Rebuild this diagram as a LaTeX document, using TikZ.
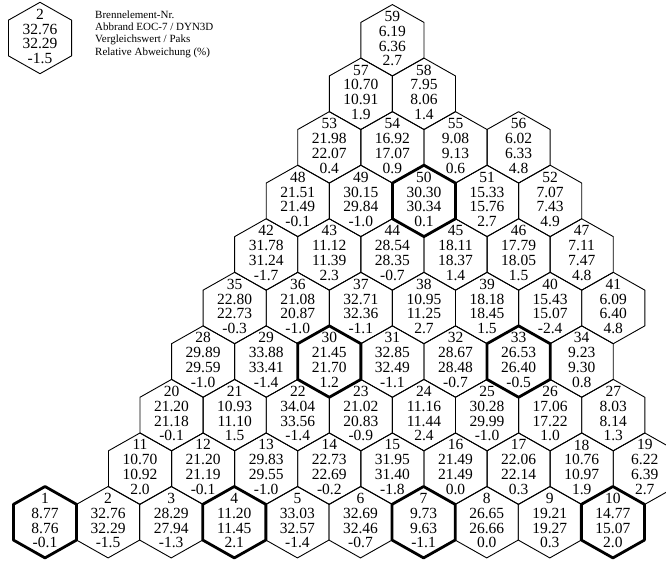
\documentclass[tikz,border=0pt]{standalone}
\usepackage{fontspec}
\setmainfont{Liberation Serif}
\begin{document}
\begin{tikzpicture}[x=1pt,y=-1pt,
  hexline/.style={line width=0.9pt,line join=round},
  hexbold/.style={line width=2.8pt,line join=round},
  val/.style={font=\fontsize{15.5}{14.8}\selectfont,align=center,inner sep=0pt},
  legtext/.style={font=\fontsize{11}{12.3}\selectfont,align=left,anchor=west,inner sep=0pt}]
\useasboundingbox (0,0) rectangle (666,560);
\clip (0,0) rectangle (666,560);
\def\hexat#1#2{(#1,#2) ++(0,-35.7) -- ++(31.55,17.85) -- ++(0,35.7) -- ++(-31.55,17.85) -- ++(-31.55,-17.85) -- ++(0,-35.7) -- cycle}
\foreach \n/\r/\i/\a/\b/\c in {
 1/1/0/8.77/8.76/-0.1, 2/1/1/32.76/32.29/-1.5, 3/1/2/28.29/27.94/-1.3, 4/1/3/11.20/11.45/2.1,
 5/1/4/33.03/32.57/-1.4, 6/1/5/32.69/32.46/-0.7, 7/1/6/9.73/9.63/-1.1, 8/1/7/26.65/26.66/0.0,
 9/1/8/19.21/19.27/0.3, 10/1/9/14.77/15.07/2.0,
 11/2/0/10.70/10.92/2.0, 12/2/1/21.20/21.19/-0.1, 13/2/2/29.83/29.55/-1.0, 14/2/3/22.73/22.69/-0.2,
 15/2/4/31.95/31.40/-1.8, 16/2/5/21.49/21.49/0.0, 17/2/6/22.06/22.14/0.3, 18/2/7/10.76/10.97/1.9,
 19/2/8/6.22/6.39/2.7,
 20/3/0/21.20/21.18/-0.1, 21/3/1/10.93/11.10/1.5, 22/3/2/34.04/33.56/-1.4, 23/3/3/21.02/20.83/-0.9,
 24/3/4/11.16/11.44/2.4, 25/3/5/30.28/29.99/-1.0, 26/3/6/17.06/17.22/1.0, 27/3/7/8.03/8.14/1.3,
 28/4/0/29.89/29.59/-1.0, 29/4/1/33.88/33.41/-1.4, 30/4/2/21.45/21.70/1.2, 31/4/3/32.85/32.49/-1.1,
 32/4/4/28.67/28.48/-0.7, 33/4/5/26.53/26.40/-0.5, 34/4/6/9.23/9.30/0.8,
 35/5/0/22.80/22.73/-0.3, 36/5/1/21.08/20.87/-1.0, 37/5/2/32.71/32.36/-1.1, 38/5/3/10.95/11.25/2.7,
 39/5/4/18.18/18.45/1.5, 40/5/5/15.43/15.07/-2.4, 41/5/6/6.09/6.40/4.8,
 42/6/0/31.78/31.24/-1.7, 43/6/1/11.12/11.39/2.3, 44/6/2/28.54/28.35/-0.7, 45/6/3/18.11/18.37/1.4,
 46/6/4/17.79/18.05/1.5, 47/6/5/7.11/7.47/4.8,
 48/7/0/21.51/21.49/-0.1, 49/7/1/30.15/29.84/-1.0, 50/7/2/30.30/30.34/0.1, 51/7/3/15.33/15.76/2.7,
 52/7/4/7.07/7.43/4.9,
 53/8/0/21.98/22.07/0.4, 54/8/1/16.92/17.07/0.9, 55/8/2/9.08/9.13/0.6, 56/8/3/6.02/6.33/4.8,
 57/9/0/10.70/10.91/1.9, 58/9/1/7.95/8.06/1.4,
 59/10/0/6.19/6.36/2.7}{
  \pgfmathsetmacro\cx{\r==1 ? 45+\i*63.1 : 140+(\r-2)*31.55+\i*63.1}
  \pgfmathsetmacro\cy{522.2-(\r-1)*53.55}
  \draw[hexline] \hexat{\cx}{\cy};
  \node[val] (h\n) at (\cx,\cy-1.5) {\n\\\a\\\b\\\c};
}
\foreach \r/\i in {1/0,1/3,1/6,1/9,4/2,4/5,7/2}{
  \pgfmathsetmacro\cx{\r==1 ? 45+\i*63.1 : 140+(\r-2)*31.55+\i*63.1}
  \pgfmathsetmacro\cy{522.2-(\r-1)*53.55}
  \draw[hexbold] \hexat{\cx}{\cy};
}
% legend
\draw[hexline] \hexat{40}{38};
\node[val] (leghex) at (40,36.5) {2\\32.76\\32.29\\-1.5};
\node[legtext] (legend) at (95,34) {Brennelement-Nr.\\Abbrand EOC-7 / DYN3D\\Vergleichswert / Paks\\Relative Abweichung (\%)};
\end{tikzpicture}
\end{document}
